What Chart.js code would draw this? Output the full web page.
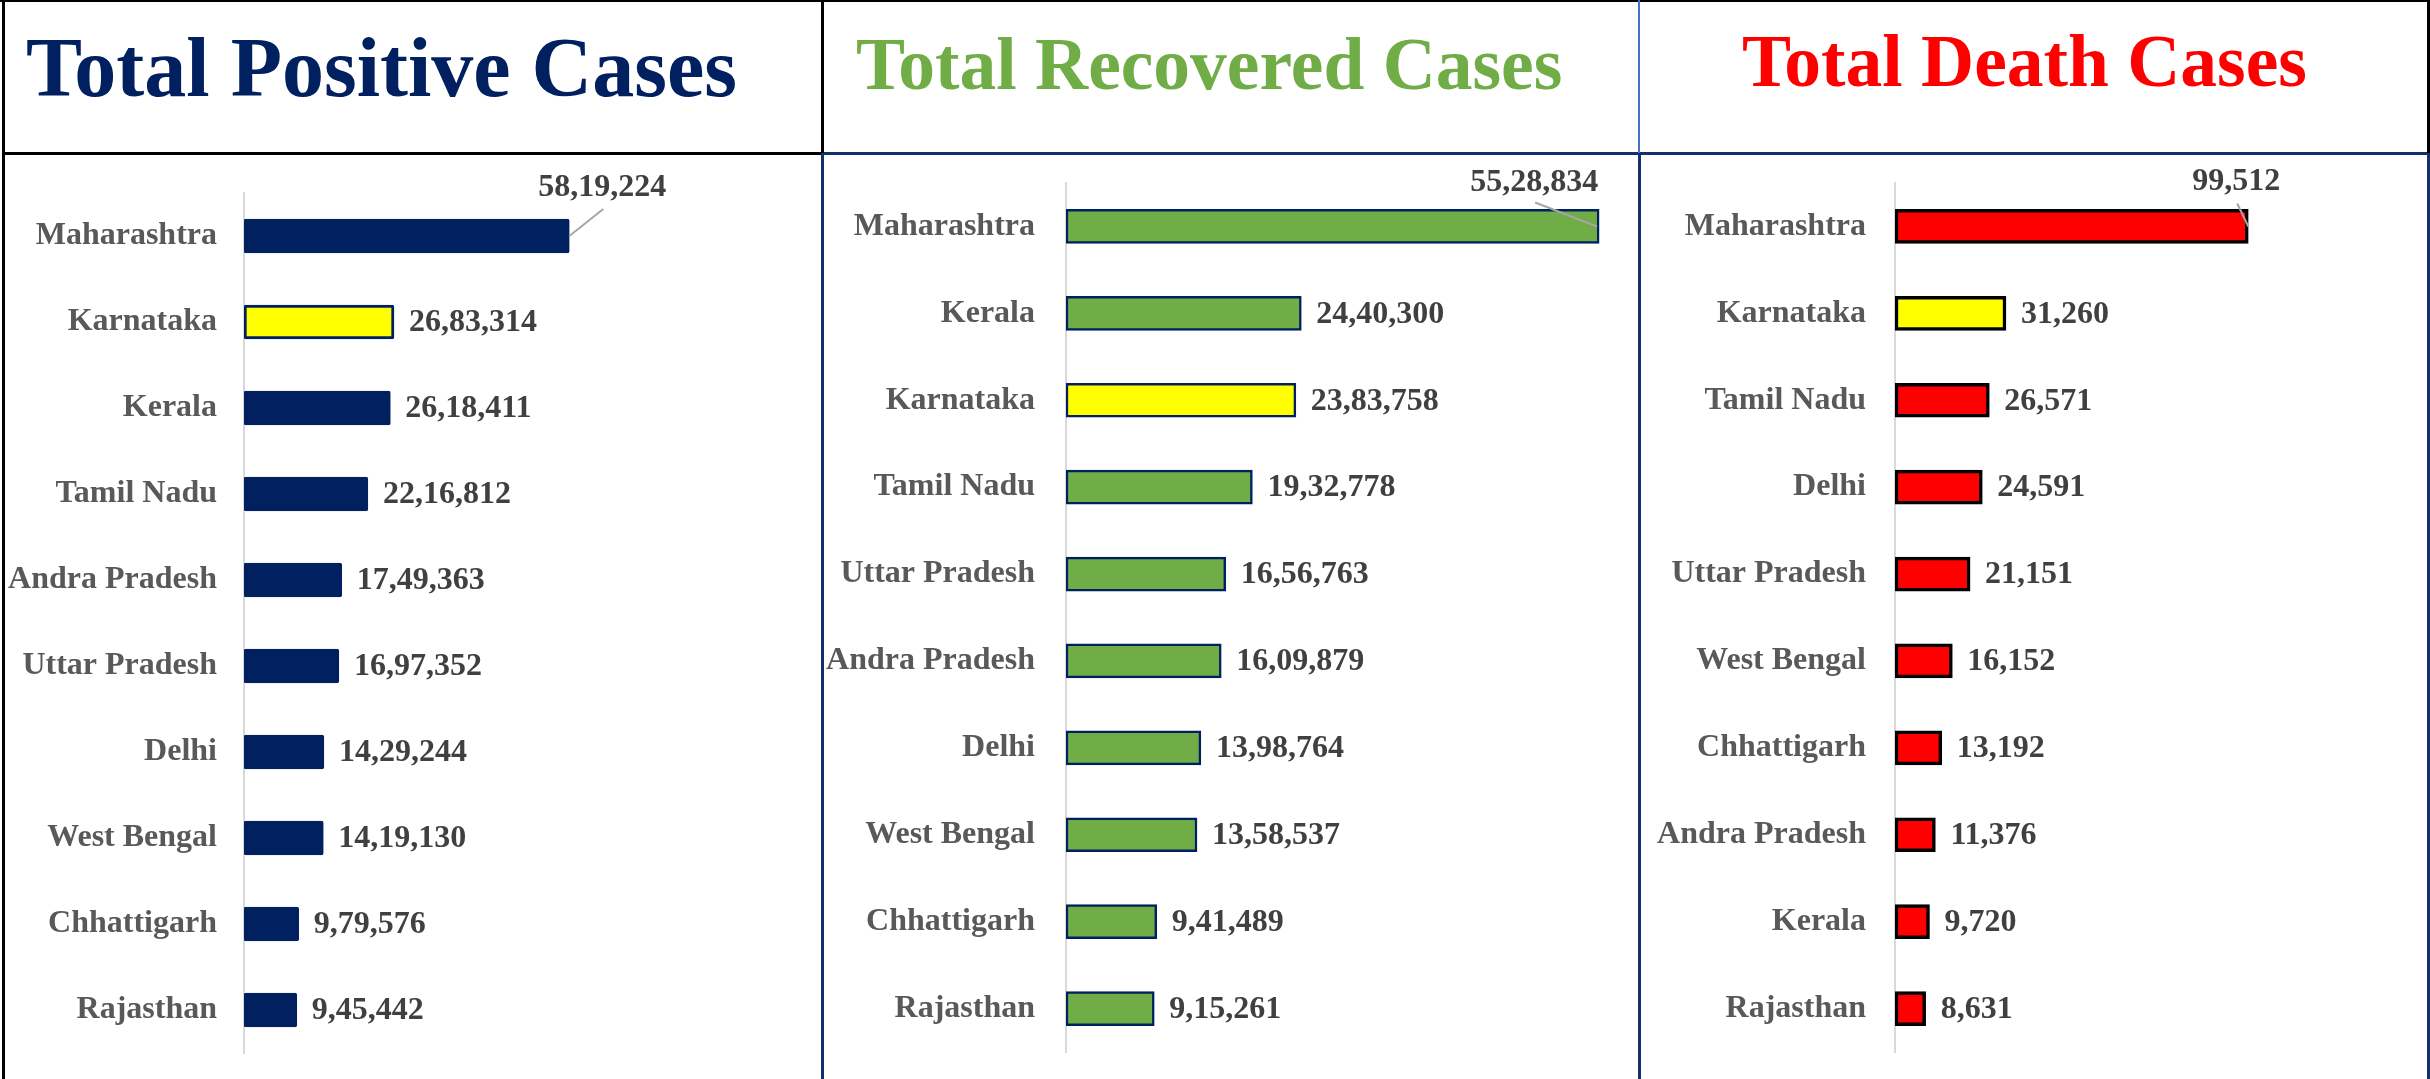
<!DOCTYPE html>
<html>
<head>
<meta charset="utf-8">
<script src="https://cdn.jsdelivr.net/npm/chart.js@4/dist/chart.umd.min.js"></script>
<style>
  html, body { margin: 0; padding: 0; background: #fff; }
  body { width: 2430px; height: 1079px; position: relative; overflow: hidden; font-family: "Liberation Serif", "Times New Roman", serif; }
  .line { position: absolute; }
  .title { position: absolute; font-weight: bold; white-space: nowrap; line-height: 1; }
  canvas { position: absolute; }
</style>
</head>
<body>
<!-- frame lines -->
<div class="line" style="left:0;top:0;width:2430px;height:2px;background:#000"></div>
<div class="line" style="left:2px;top:0;width:3px;height:1079px;background:#000"></div>
<div class="line" style="left:3px;top:152px;width:820px;height:3px;background:#000"></div>
<div class="line" style="left:822px;top:152px;width:1606px;height:3px;background:#13306e"></div>
<div class="line" style="left:821px;top:0;width:3px;height:153px;background:#000"></div>
<div class="line" style="left:821px;top:153px;width:3px;height:926px;background:#13306e"></div>
<div class="line" style="left:1638px;top:0;width:2px;height:153px;background:#4472C4"></div>
<div class="line" style="left:1638px;top:153px;width:3px;height:926px;background:#13306e"></div>
<div class="line" style="left:2427px;top:0;width:3px;height:153px;background:#000"></div>
<div class="line" style="left:2427px;top:153px;width:3px;height:926px;background:#13306e"></div>

<div class="title" style="left:26px;top:26px;font-size:84px;color:#002060">Total Positive Cases</div>
<div class="title" style="left:856px;top:28px;font-size:73.5px;color:#70AD47">Total Recovered Cases</div>
<div class="title" style="left:1742px;top:25px;font-size:73.5px;color:#FF0000">Total Death Cases</div>

<canvas id="positive" width="814" height="923" style="left:6px;top:156px"></canvas>
<canvas id="recovered" width="811" height="923" style="left:825px;top:156px"></canvas>
<canvas id="deaths" width="783" height="923" style="left:1643px;top:156px"></canvas>

<script>
const positiveStates = ['Maharashtra', 'Karnataka', 'Kerala', 'Tamil Nadu', 'Andra Pradesh', 'Uttar Pradesh', 'Delhi', 'West Bengal', 'Chhattigarh', 'Rajasthan'];
const positiveCases = [5819224, 2683314, 2618411, 2216812, 1749363, 1697352, 1429244, 1419130, 979576, 945442];

const recoveredStates = ['Maharashtra', 'Kerala', 'Karnataka', 'Tamil Nadu', 'Uttar Pradesh', 'Andra Pradesh', 'Delhi', 'West Bengal', 'Chhattigarh', 'Rajasthan'];
const recoveredCases = [5528834, 2440300, 2383758, 1932778, 1656763, 1609879, 1398764, 1358537, 941489, 915261];

const deathStates = ['Maharashtra', 'Karnataka', 'Tamil Nadu', 'Delhi', 'Uttar Pradesh', 'West Bengal', 'Chhattigarh', 'Andra Pradesh', 'Kerala', 'Rajasthan'];
const deathCases = [99512, 31260, 26571, 24591, 21151, 16152, 13192, 11376, 9720, 8631];

const highlight = 'Karnataka';

// indian grouping: 58,19,224
function indian(n) {
    const s = String(n);
    if (s.length <= 3) return s;
    const last3 = s.slice(-3);
    const rest = s.slice(0, -3).replace(/\B(?=(\d{2})+(?!\d))/g, ',');
    return rest + ',' + last3;
}

const valueLabels = {
    id: 'valueLabels',
    afterDatasetsDraw(chart, args, opts) {
        const ctx = chart.ctx;
        const meta = chart.getDatasetMeta(0);
        const values = chart.data.datasets[0].data;
        ctx.save();
        ctx.font = 'bold 32px "Liberation Serif", "Times New Roman", serif';
        ctx.fillStyle = '#404040';
        ctx.textBaseline = 'middle';
        meta.data.forEach((bar, i) => {
            const text = indian(values[i]);
            if (i === 0) {
                const c = opts.callout;
                ctx.strokeStyle = '#A6A6A6';
                ctx.lineWidth = 2;
                ctx.beginPath();
                ctx.moveTo(bar.x + c.from[0], bar.y + c.from[1]);
                ctx.lineTo(bar.x + c.to[0], bar.y + c.to[1]);
                ctx.stroke();
                ctx.textAlign = 'center';
                ctx.fillText(text, bar.x + c.text[0], bar.y + c.text[1]);
            } else {
                ctx.textAlign = 'left';
                ctx.fillText(text, bar.x + 15, bar.y + 1);
            }
        });
        ctx.restore();
    }
};

function makeChart(id, labels, values, o) {
    const ctx = document.getElementById(id).getContext('2d');
    return new Chart(ctx, {
        type: 'bar',
        data: {
            labels: labels,
            datasets: [{
                data: values,
                backgroundColor: labels.map(l => (l === highlight ? '#FFFF00' : o.color)),
                borderColor: o.border,
                borderWidth: labels.map(l => (l === highlight ? o.hiBorderWidth : o.borderWidth)),
                borderSkipped: false,
                borderRadius: o.radius,
                barThickness: 34,
            }],
        },
        plugins: [valueLabels],
        options: {
            indexAxis: 'y',
            responsive: false,
            animation: false,
            devicePixelRatio: 1,
            layout: { padding: o.padding },
            scales: {
                x: { display: false, min: 0, max: o.max },
                y: {
                    grid: { display: false, drawTicks: false },
                    border: { display: true, color: '#D9D9D9', width: 2 },
                    ticks: {
                        padding: o.tickPad,
                        color: '#595959',
                        font: { family: '"Liberation Serif", "Times New Roman", serif', size: 32, weight: 'bold' },
                    },
                    afterFit: (scale) => {
                        scale.width = o.axisWidth;
                        scale.paddingTop = 0;
                        scale.paddingBottom = 0;
                    },
                },
            },
            plugins: {
                legend: { display: false },
                tooltip: { enabled: false },
                valueLabels: { callout: o.callout },
            },
        },
    });
}

makeChart('positive', positiveStates, positiveCases, {
    color: '#002060', border: '#002060', borderWidth: 1, hiBorderWidth: 3, radius: 2,
    max: 10000000, axisWidth: 238, tickPad: 27,
    padding: { left: 0, right: 17, top: 37, bottom: 26 },
    callout: { from: [0, 0], to: [34, -27], text: [33, -48] },
});

makeChart('recovered', recoveredStates, recoveredCases, {
    color: '#70AD47', border: '#002060', borderWidth: 2.5, hiBorderWidth: 2.5, radius: 0,
    max: 5600000, axisWidth: 241, tickPad: 31,
    padding: { left: 0, right: 30, top: 27, bottom: 27 },
    callout: { from: [-2, 0], to: [-64, -24], text: [-65, -44] },
});

makeChart('deaths', deathStates, deathCases, {
    color: '#FF0000', border: '#000000', borderWidth: 3.5, hiBorderWidth: 3.5, radius: 0,
    max: 140000, axisWidth: 252, tickPad: 29,
    padding: { left: 0, right: 34, top: 27, bottom: 27 },
    callout: { from: [0, 0], to: [-11, -23], text: [-12, -45] },
});
</script>
</body>
</html>
